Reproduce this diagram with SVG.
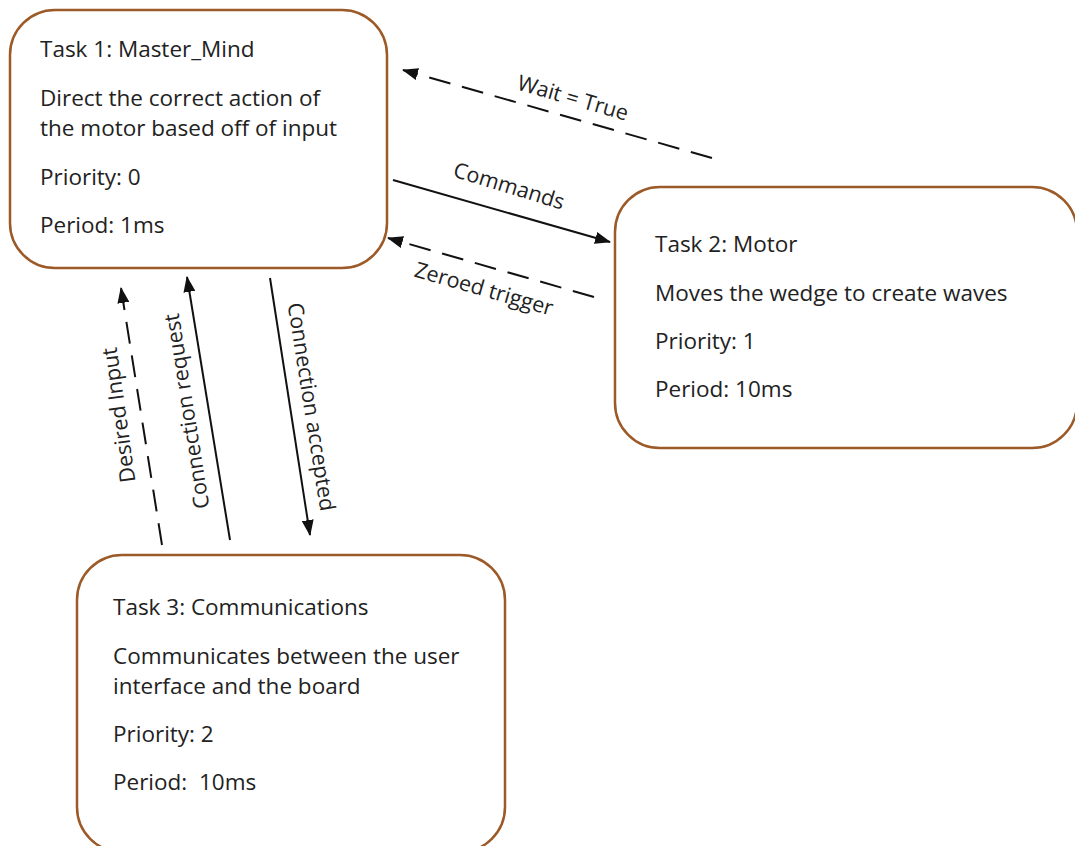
<svg xmlns="http://www.w3.org/2000/svg" width="1075" height="846" viewBox="0 0 1075 846">
<style>
.box{fill:#fff;stroke:#9c5a28;stroke-width:2.5}
.t{font-family:"Open Sans",sans-serif;font-size:22.5px;fill:#222;white-space:pre}
.l{font-family:"Open Sans",sans-serif;font-size:21.5px;fill:#222}
.c{stroke:#111;stroke-width:2;fill:none}
.d{stroke-dasharray:22,12}
</style>
<defs>
<marker id="ah" markerWidth="16" markerHeight="12" refX="15" refY="6" orient="auto" markerUnits="userSpaceOnUse">
<path d="M0,0 L16,6 L0,12 Z" fill="#111"/>
</marker>
</defs>
<rect width="1075" height="846" fill="#fff"/>
<g id="task1">
<rect class="box" x="10" y="10" width="377" height="258" rx="45"/>
<text class="t" x="40" y="57">Task 1: Master_Mind</text>
<text class="t" x="40" y="106">Direct the correct action of</text>
<text class="t" x="40" y="136">the motor based off of input</text>
<text class="t" x="40" y="185">Priority: 0</text>
<text class="t" x="40" y="233">Period: 1ms</text>
</g>
<g id="task2">
<rect class="box" x="615" y="187" width="462" height="261" rx="45"/>
<text class="t" x="655" y="252">Task 2: Motor</text>
<text class="t" x="655" y="301">Moves the wedge to create waves</text>
<text class="t" x="655" y="349">Priority: 1</text>
<text class="t" x="655" y="397">Period: 10ms</text>
</g>
<g id="task3">
<rect class="box" x="77" y="555" width="428" height="297" rx="45"/>
<text class="t" x="113" y="615">Task 3: Communications</text>
<text class="t" x="113" y="664">Communicates between the user</text>
<text class="t" x="113" y="694">interface and the board</text>
<text class="t" x="113" y="742">Priority: 2</text>
<text class="t" x="113" y="790" xml:space="preserve">Period:  10ms</text>
</g>
<g id="connectors">
<line class="c d" x1="712" y1="158" x2="403" y2="70" marker-end="url(#ah)"/>
<line class="c" x1="393" y1="180" x2="610" y2="242" marker-end="url(#ah)"/>
<line class="c d" x1="594" y1="297" x2="388" y2="238" marker-end="url(#ah)"/>
<line class="c d" x1="162" y1="545" x2="121" y2="288" marker-end="url(#ah)"/>
<line class="c" x1="230" y1="540" x2="187" y2="277" marker-end="url(#ah)"/>
<line class="c" x1="270" y1="278" x2="310" y2="535" marker-end="url(#ah)"/>
<text class="l" text-anchor="middle" transform="translate(571,105) rotate(16)">Wait = True</text>
<text class="l" text-anchor="middle" transform="translate(507,193) rotate(17)">Commands</text>
<text class="l" text-anchor="middle" transform="translate(482,296) rotate(16)">Zeroed trigger</text>
<text class="l" text-anchor="middle" transform="translate(126,414) rotate(-98)">Desired Input</text>
<text class="l" text-anchor="middle" transform="translate(194,410) rotate(-99)">Connection request</text>
<text class="l" text-anchor="middle" transform="translate(304,408) rotate(81)">Connection accepted</text>
</g>
</svg>
